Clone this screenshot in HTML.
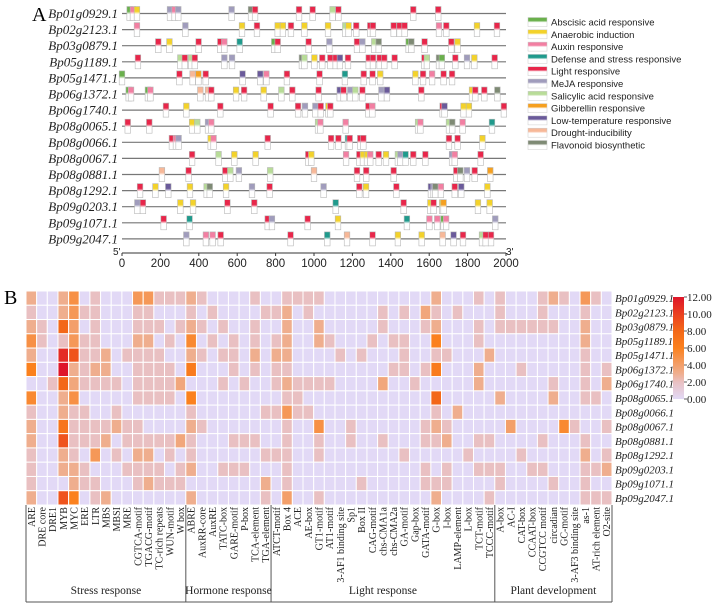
<!DOCTYPE html>
<html><head><meta charset="utf-8">
<style>
html,body{margin:0;padding:0;background:#fff;}
svg{display:block;}
</style></head>
<body>
<svg id="fig" width="720" height="609" viewBox="0 0 720 609" xmlns="http://www.w3.org/2000/svg">
  <defs id="grads"></defs>
  <text x="32" y="21" font-family="Liberation Serif, serif" font-size="20">A</text>
  <text x="4" y="304" font-family="Liberation Serif, serif" font-size="20">B</text>
  <g id="panelA"></g>
  <g id="legendA"></g>
  <g id="panelB"></g>
</svg>
<script>
// ---------- Panel A data ----------
const genes = ["Bp01g0929.1","Bp02g2123.1","Bp03g0879.1","Bp05g1189.1","Bp05g1471.1","Bp06g1372.1","Bp06g1740.1","Bp08g0065.1","Bp08g0066.1","Bp08g0067.1","Bp08g0881.1","Bp08g1292.1","Bp09g0203.1","Bp09g1071.1","Bp09g2047.1"];
const elementTypes = ["a","n","x","d","l","m","s","g","t","r","f"];
const elementNames = ["Abscisic acid responsive","Anaerobic induction","Auxin responsive","Defense and stress responsive","Light responsive","MeJA responsive","Salicylic acid responsive","Gibberellin responsive","Low-temperature responsive","Drought-inducibility","Flavonoid biosynthetic"];
const elementColors = ["#6ab04c","#f3d22a","#f27fa2","#1f9a8c","#e8264a","#a09cbc","#b8dc98","#f5a020","#6a5a9a","#f7b898","#7e8a74"];
const sitePositions = [
 [40,57,78,250,274,293,571,672,693,922,993,1097,1127,1517,1647],
 [78,330,625,703,811,838,880,950,1073,1163,1180,1220,1293,1307,1415,1446,1472,1651,1689,1849,1953],
 [189,247,399,512,533,613,793,811,972,1080,1224,1252,1314,1337,1493,1507,1576,1715,1748],
 [83,304,327,360,379,533,573,937,950,1002,1043,1085,1113,1135,1177,1285,1307,1342,1366,1420,1575,1588,1651,1666,1736,1797,1835,1941],
 [0,299,368,398,436,628,720,752,859,1029,1161,1259,1305,1345,1528,1568,1615,1675,1719],
 [35,47,135,148,408,448,465,594,636,738,830,887,1024,1134,1154,1189,1215,1252,1351,1380,1559,1823,1840,1887,1955],
 [229,335,512,774,917,953,1007,1035,1075,1085,1283,1304,1670,1680,1779,1807,1989],
 [30,142,365,392,448,465,1021,1033,1165,1542,1554,1703,1720,1774,1927],
 [260,281,295,462,477,759,1089,1127,1177,1186,1241,1257,1703,1748,1877],
 [365,503,585,696,970,986,1167,1236,1255,1276,1293,1337,1375,1437,1450,1477,1517,1580,1719,1733,1868],
 [208,347,538,564,609,772,1000,1224,1272,1415,1741,1762,1797,1837,1918],
 [94,174,241,354,441,457,542,677,769,1050,1236,1271,1429,1609,1623,1632,1661,1733,1767,1903],
 [80,109,304,370,549,689,1113,1467,1606,1623,1668,1675,1854,1915],
 [217,352,759,781,967,1125,1484,1601,1642,1675,1688,1944],
 [335,437,472,514,878,1069,1172,1305,1437,1561,1670,1727,1776,1875,1894,1922]
];
const siteTypes = [
 "axnmxmmflllslll",
 "xmnlnnlnnsnllllllxlnl",
 "lnllxdallmlmsfaflln",
 "lslslmmfsnllltlllllllsfalmnln",
 "alrglttxlldllnnlxllrx",
 "axaxrrlnlnslltlmslmtlnllf",
 "lnlllmmlnllxltnnl",
 "llnsmxsxxsxsfxd",
 "lxmnxllldllllln",
 "lsnnlnxlnnxlnsmdllmxl",
 "rllsmsrllllfmlgn",
 "lntnsfnmlmlnltmfxltn",
 "mlnnlldlnlngnn",
 "ldlmlndxxaxm",
 "mxxlldrlnnrtlsll"
];
const axisTicks = [0,200,400,600,800,1000,1200,1400,1600,1800,2000];

// ---------- Panel B data ----------
const motifs = ["ARE","DRE core","DRE1","MYB","MYC","ERE","LTR","MBS","MBSI","MRE","CGTCA-motif","TGACG-motif","TC-rich repeats","WUN-motif","W box",
"ABRE","AuxRR-core","AuxRE","TATC-box","GARE-motif","P-box","TCA-element","TGA-element",
"ATCT-motif","Box 4","ACE","AE-box","GT1-motif","AT1-motif","3-AF1 binding site","Sp1","Box II","CAG-motif","chs-CMA1a","chs-CMA2a","GA-motif","Gap-box","GATA-motif","G-box","I-box","LAMP-element","L-box","TCT-motif","TCCC-motif",
"A-box","AC-I","CAT-box","CCAAT-box","CCGTCC motif","circadian","GC-motif","3-AF3 binding site","as-1","AT-rich element","O2-site"];
const groupNames = ["Stress response","Hormone response","Light response","Plant development"];
const groupSizes = [15,8,21,11];
const counts = [
 [3,0,0,3,5,0,2,0,0,0, 4.5,4.5,2,2,2,3,2,0,0,0, 0,2,0,0,2,2,2,2,0,0, 0,0,0,0,0,0,0,0,3,0, 0,0,2,0,2,0,0,0,2,3, 2,0,4.5,2,0],
 [2,0,0,3,4.5,2,2,0,0,0, 2,2,0,0,0,2,0,2,0,0, 0,0,2,2,3,0,2,0,0,0, 0,0,0,2,0,2,0,3.5,2,0, 2,0,0,0,2,0,0,0,2,0, 0,0,2,0,0],
 [3,2,0,8,4,0,2,0,0,0, 2,2,2,0,2,3,2,0,2,0, 0,2,0,0,3,0,0,3,0,0, 0,0,0,2,0,0,0,2,3,0, 0,0,2,0,2,2,2,2,2,2, 0,0,3,0,0],
 [5,2,0,2,4.5,2,2,0,0,0, 3,3,0,2,0,5.5,0,2,0,2, 0,2,0,2,3,0,0,3,2,0, 0,0,2,0,2,2,0,0,6,0, 0,0,2,0,0,0,0,0,0,0, 0,0,3,0,0],
 [3,0,0,11,9,2,2,3,0,2, 2,2,2,0,0,3,2,0,2,2, 0,3,0,3,3,0,0,0,0,2, 0,2,0,0,0,2,0,0,2,2, 0,0,0,3,0,0,0,0,0,0, 0,0,2,0,0],
 [6,0,0,12,3,2,3,3,0,0, 2,2,2,2,0,6.5,0,0,0,2, 0,2,0,2,2,0,0,0,0,0, 0,0,0,0,2,2,0,2,6.5,0, 0,0,3,0,0,0,2,0,0,0, 0,0,2,0,2],
 [0,0,2,8,3.5,2,2,2,2,0, 2,2,2,2,3.5,0,0,0,2,0, 2,0,0,2,3,2,2,2,2,0, 0,0,0,3.5,0,0,2,0,0,0, 0,0,3,0,0,0,0,0,0,2, 0,0,2,0,3],
 [5.5,0,0,3,5,0,0,0,0,0, 2,2,2,2,0,6,0,0,0,0, 0,0,0,0,2,2,0,0,0,0, 0,0,0,0,0,0,0,0,8,0, 0,0,0,0,3,0,0,0,0,3, 0,0,2,2,0],
 [2,0,0,3,2,2,0,0,2,0, 0,0,0,0,0,2,0,0,0,0, 0,0,2,2,4.5,2,2,0,0,0, 0,0,0,0,0,0,0,0,2,0, 3,0,0,0,0,0,0,0,0,0, 0,0,0,0,0],
 [3,0,0,7,2,2,2,2,3,2, 2,0,0,0,0,3,2,0,0,0, 0,0,0,0,2,0,0,5,0,0, 2,0,0,0,0,0,0,2,3,2, 0,0,0,0,0,4,0,0,0,0, 5.5,2,0,0,2],
 [3,0,0,9,2,2,2,3,0,2, 2,2,2,2,3.5,2,0,0,0,2, 2,2,0,0,2,0,0,2,0,0, 2,0,0,2,0,0,0,2,2,3, 0,0,2,2,0,0,0,0,2,0, 0,0,2,0,0],
 [2,0,0,3,2,0,4.5,0,2,0, 3,3,0,2,0,2,0,0,0,0, 0,0,2,2,2,0,0,2,0,0, 0,0,0,0,0,2,0,0,0,0, 0,2,0,0,0,0,2,0,0,0, 0,0,3,0,2],
 [2,0,0,3,3,2,0,0,0,2, 2,2,2,0,2,3,0,0,2,2, 2,0,0,0,2,0,0,0,0,0, 0,0,0,0,0,0,0,2,0,2, 0,0,2,2,2,0,0,2,2,0, 0,0,2,2,3],
 [2,0,0,0,3,2,2,0,0,0, 2,3,2,2,2,0,0,0,0,0, 0,0,3,0,2,0,0,0,0,0, 0,2,0,0,0,0,0,2,2,2, 0,0,0,0,2,0,0,0,0,2, 0,0,2,0,0],
 [3,0,0,9,6,0,2,3,0,0, 0,0,0,0,0,3,0,0,0,0, 0,0,2,0,4,0,0,2,0,0, 0,0,0,0,0,0,0,0,3,0, 0,0,0,2,0,0,0,0,0,0, 0,0,2,2,2]
];
const colorbarTicks = [0,2,4,6,8,10,12];

// ---------- drawing ----------
const NS = "http://www.w3.org/2000/svg";
function mk(tag, attrs, parent){ const e=document.createElementNS(NS,tag); for(const k in attrs) e.setAttribute(k,attrs[k]); if(parent) parent.appendChild(e); return e; }
const defs = document.getElementById('grads');
elementTypes.forEach((t,i)=>{
  const g = mk('linearGradient',{id:'g_'+t,x1:0,y1:0,x2:0,y2:1},defs);
  mk('stop',{offset:'0','stop-color':elementColors[i]},g);
  mk('stop',{offset:'0.35','stop-color':elementColors[i]},g);
  mk('stop',{offset:'0.55','stop-color':'#ffffff'},g);
  mk('stop',{offset:'1','stop-color':'#ffffff'},g);
});

// Panel A
const A = document.getElementById('panelA');
const ax0=122, ax1=506, rowY0=13.5, rowDY=16.1;
const xA = bp => ax0 + bp/2000*(ax1-ax0);
genes.forEach((gname,i)=>{
  const y = rowY0 + i*rowDY;
  const lab = mk('text',{x:118,y:y+4.5,'text-anchor':'end','font-family':'Liberation Serif, serif','font-style':'italic','font-size':'13',fill:'#222'},A);
  lab.textContent = gname;
  
  
  const ln = mk('line',{x1:ax0,x2:ax1,y1:y,y2:y,stroke:'#777','stroke-width':1.2},A);
  
  
  sitePositions[i].forEach((p,j)=>{
    const t = siteTypes[i][j] || 'l';
    const r = mk('rect',{x:xA(p)-2.8,y:y-7,width:5.6,height:14,fill:'url(#g_'+t+')',stroke:'#b8b8b8','stroke-width':0.6},A);
    
    
  });
});
const axY = 253;
mk('line',{x1:ax0,x2:ax1,y1:axY,y2:axY,stroke:'#333','stroke-width':1},A);
axisTicks.forEach(v=>{
  mk('line',{x1:xA(v),x2:xA(v),y1:axY,y2:axY+3,stroke:'#333','stroke-width':1},A);
  const t = mk('text',{x:xA(v),y:axY+14,'text-anchor':'middle','font-family':'Liberation Sans, sans-serif','font-size':'11.5',fill:'#222'},A);
  t.textContent = v;
  
  
});
const p5 = mk('text',{x:113,y:255,'font-family':'Liberation Sans, sans-serif','font-size':'10',fill:'#222'},A); p5.textContent="5'";
 
const p3 = mk('text',{x:506,y:255,'font-family':'Liberation Sans, sans-serif','font-size':'10',fill:'#222'},A); p3.textContent="3'";
 

// Legend
const L = document.getElementById('legendA');
elementNames.forEach((n,i)=>{
  const y = 22 + i*12.3;
  const r = mk('rect',{x:528,y:y-4.5,width:19,height:9,fill:'url(#g_'+elementTypes[i]+')',stroke:'#ccc','stroke-width':0.5},L);
  
  
  const t = mk('text',{x:551,y:y+3.5,'font-family':'Liberation Sans, sans-serif','font-size':'9.5',fill:'#222'},L);
  t.textContent = n;
  
  
});

// Panel B
const B = document.getElementById('panelB');
const hx0=26, hx1=612, hy0=291, hy1=505;
const cw=(hx1-hx0)/motifs.length, ch=(hy1-hy0)/genes.length;
const stops=[[0,[226,217,246]],[2,[233,192,194]],[3,[239,174,142]],[4.5,[245,152,88]],[6,[251,129,30]],[8,[243,104,24]],[10,[234,64,32]],[12,[222,22,42]]];
function col(v){
  for(let k=1;k<stops.length;k++){ if(v<=stops[k][0]){ const a=stops[k-1],b=stops[k]; const f=(v-a[0])/(b[0]-a[0]); return 'rgb('+a[1].map((c,i)=>Math.round(c+(b[1][i]-c)*f)).join(',')+')'; } }
  return 'rgb(222,22,42)';
}
counts.forEach((row,i)=>{
  row.forEach((v,j)=>{
    const r = mk('rect',{x:hx0+j*cw,y:hy0+i*ch,width:cw,height:ch,fill:col(v),stroke:'#fff','stroke-width':1},B);
    
    
  });
  const t = mk('text',{x:hx1+3,y:hy0+i*ch+ch/2+4,'font-family':'Liberation Serif, serif','font-style':'italic','font-size':'11',fill:'#222'},B);
  t.textContent = genes[i];
  
  
});
motifs.forEach((m,j)=>{
  const cx = hx0+j*cw+cw/2+3.5;
  const t = mk('text',{x:cx,y:hy1+2,transform:'rotate(-90 '+cx+' '+(hy1+2)+')','text-anchor':'end','font-family':'Liberation Serif, serif','font-size':'10',fill:'#222'},B);
  t.textContent = m;
  
  
});
// group brackets
let acc=0;
mk('line',{x1:hx0,x2:hx0,y1:hy1,y2:602,stroke:'#555','stroke-width':1},B);
mk('line',{x1:hx0,x2:hx1,y1:602,y2:602,stroke:'#555','stroke-width':1},B);
groupSizes.forEach((s,g)=>{
  const xs = hx0+acc*cw, xe = hx0+(acc+s)*cw;
  mk('line',{x1:xe,x2:xe,y1:hy1,y2:602,stroke:'#555','stroke-width':1},B);
  const t = mk('text',{x:(xs+xe)/2,y:594,'text-anchor':'middle','font-family':'Liberation Serif, serif','font-size':'11.5',fill:'#222'},B);
  t.textContent = groupNames[g];
  
  
  acc+=s;
});
// colorbar
const cbx=673, cbw=11, cby0=297, cby1=399;
const cg = mk('linearGradient',{id:'cbg',x1:0,y1:1,x2:0,y2:0},defs);
stops.forEach(s=>mk('stop',{offset:String(s[0]/12),'stop-color':'rgb('+s[1].join(',')+')'},cg));
const cb = mk('rect',{x:cbx,y:cby0,width:cbw,height:cby1-cby0,fill:'url(#cbg)'},B);


colorbarTicks.forEach(v=>{
  const y = cby1-(v/12)*(cby1-cby0);
  mk('line',{x1:cbx+cbw,x2:cbx+cbw+3,y1:y,y2:y,stroke:'#333','stroke-width':0.8},B);
  const t = mk('text',{x:cbx+cbw+3,y:y+4,'font-family':'Liberation Serif, serif','font-size':'11',fill:'#222'},B);
  t.textContent = v.toFixed(2);
  
  
});
</script>
</body></html>
